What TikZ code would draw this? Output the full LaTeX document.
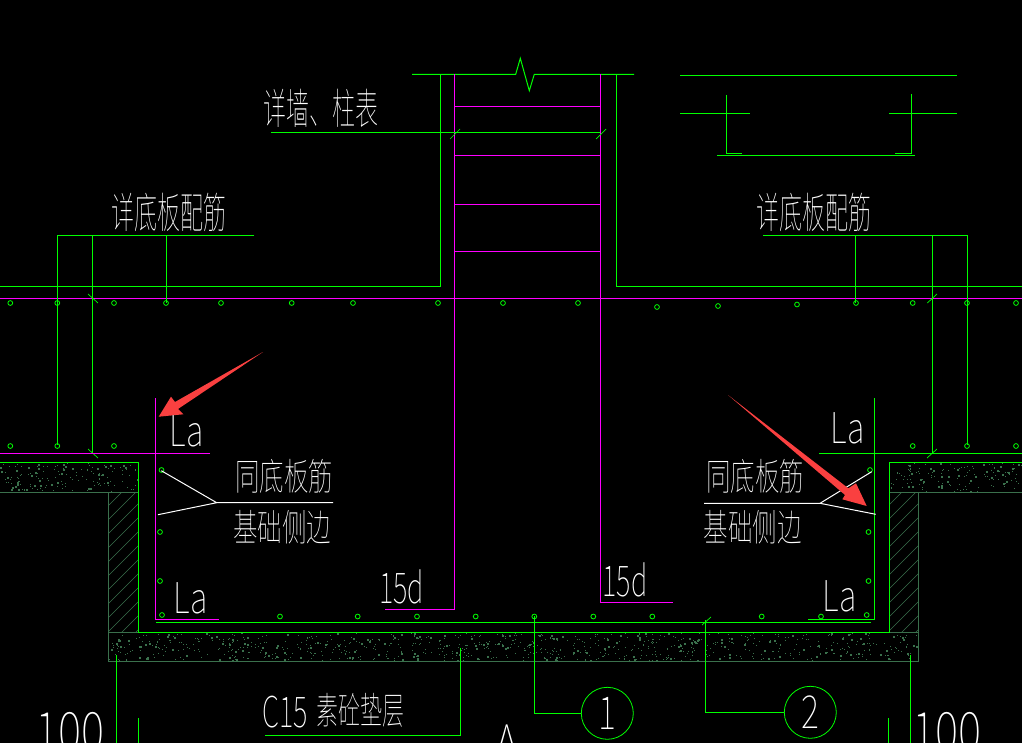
\documentclass[tikz,border=0pt]{standalone}
\usepackage{fontspec}
\usepackage{graphicx}
\usepackage{tikz}
\newfontfamily\cadcjk{Noto Sans CJK SC Thin}
\definecolor{cadgreen}{RGB}{0,255,0}
\definecolor{cadmagenta}{RGB}{255,0,255}
\definecolor{caddark}{RGB}{58,112,76}
\definecolor{cadred}{RGB}{250,64,64}
\tikzset{
	cadlabel/.style={text=white,inner sep=0pt,transform shape,xscale=#1,yscale=1.5,font=\cadcjk\fontsize{25}{25}\selectfont},
	cadlabel/.default=.98,
	tallabel/.style={text=white,inner sep=0pt,transform shape,xscale=#1,yscale=1.7,font=\cadcjk\fontsize{25}{25}\selectfont},
	cadsign/.style={text=white,inner sep=0pt,transform shape,xscale=#1,yscale=1.12,font=\cadcjk\fontsize{38}{38}\selectfont},
	cadsign/.default=.85,
	bigsign/.style={text=white,inner sep=0pt,transform shape,xscale=1.05,yscale=1.3,font=\cadcjk\fontsize{42}{42}\selectfont},
	rebar/.style={cadgreen,line width=.8pt},
	bubble/.style={circle,draw=cadgreen,line width=.8pt,minimum size=52pt,inner sep=0pt,text=white,font=\cadcjk\fontsize{38}{38}\selectfont}
}
\newcommand{\grit}[5]{
	\foreach \i in {1,...,#5}{
		\pgfmathsetmacro{\px}{#1+rnd*#3}
		\pgfmathsetmacro{\py}{#2+rnd*#4}
		\pgfmathsetmacro{\ps}{rnd>.8 ? 2 : 1}
		\fill[caddark] (\px,\py) rectangle +(\ps,\ps);
	}
}
\begin{document}
\begin{tikzpicture}[x=1pt,y=-1pt,line width=1pt]
	\fill[black] (0,0) rectangle (1022,743);
	\useasboundingbox (0,0) rectangle (1022,743);
	\clip (0,0) rectangle (1022,743);
	\pgfmathsetseed{7}
	\grit{0}{463}{137}{28}{150}
	\grit{890}{463}{132}{28}{145}
	\grit{109}{633}{809}{27}{850}
	\begin{scope}
		\clip (108.5,492) rectangle (138,632);
		\foreach \y in {500,514,...,680}
			\draw[caddark,line width=.6pt] (100,\y) -- (150,\y-50);
	\end{scope}
	\begin{scope}
		\clip (889,492) rectangle (918.7,632);
		\foreach \y in {500,514,...,680}
			\draw[caddark,line width=.6pt] (880,\y) -- (930,\y-50);
	\end{scope}
	\draw[caddark] (0,492) -- (108.5,492) -- (108.5,661) -- (918.7,661) -- (918.7,492) -- (1022,492);
	\draw[caddark] (889,492) -- (918.7,492) (108.5,492) -- (138,492) (108.5,632) -- (138,632) (889,632) -- (918.7,632);
	\draw[cadgreen] (0,462) -- (138,462) -- (138,632) -- (889,632) -- (889,462) -- (1022,462);
	\draw[cadgreen] (412,74.3) -- (515.7,74.3) -- (520.3,58.3) -- (529.3,90.7) -- (534.3,74.3) -- (634,74.3);
	\draw[cadgreen] (0,286.7) -- (440.3,286.7) -- (440.3,74.3) (1022,286.7) -- (616.7,286.7) -- (616.7,74.3);
	\draw[cadmagenta] (0,298.3) -- (1022,298.3);
	\draw[cadmagenta] (454.5,74.3) -- (454.5,609.3) -- (385,609.3);
	\draw[cadmagenta] (600.3,74.3) -- (600.3,602.3) -- (672.7,602.3);
	\foreach \y in {106.3,155.3,204.3,251.3}
		\draw[cadmagenta] (454.5,\y) -- (600.3,\y);
	\draw[cadgreen] (271,132.3) -- (600.3,132.3);
	\draw[cadgreen,line width=.7pt] (450,139) -- (460,129) (596,139) -- (606,129);
	\draw[cadgreen] (680,75.3) -- (956.7,75.3) (680,113.3) -- (750,113.3) (889,113.3) -- (957,113.3);
	\draw[cadgreen] (726.3,95) -- (726.3,153.3) -- (741.7,153.3) (911.3,94) -- (911.3,153.3) -- (895,153.3) (717,155.3) -- (915,155.3);
	\draw[cadgreen] (254,235.3) -- (57.3,235.3) -- (57.3,445);
	\draw[cadgreen] (92.3,235.3) -- (92.3,453) (166,235.3) -- (166,303);
	\draw[cadgreen] (763,235.3) -- (967,235.3) -- (967,445);
	\draw[cadgreen] (855.3,235.3) -- (855.3,303) (932.3,235.3) -- (932.3,453);
	\draw[cadgreen,line width=.7pt] (88,294) -- (98,303) (88,449) -- (98,458) (927.3,303) -- (937,294) (927,458) -- (937,449) (702,625) -- (711,617);
	\draw[cadmagenta] (0,453) -- (210,453) (155.5,398) -- (155.5,619) -- (219,619);
	\draw[cadgreen] (819,453) -- (1022,453) (874.3,398) -- (874.3,619) -- (808,619);
	\draw[cadgreen] (156,622) -- (870.7,622);
	\foreach \x in {10.3,57.3,114,166,221,291.7,353,438,503,578,856,912.7,967,1016}
		\draw[rebar] (\x,303) circle (2.4);
	\draw[rebar] (657,307) circle (2.4) (718,306) circle (2.4) (797,304.5) circle (2.4);
	\foreach \x in {10.3,57.3,114,912.7,967,1016}
		\draw[rebar] (\x,446) circle (2.4);
	\foreach \x in {280,357.7,417,475.7,534.3,593.3,652.3,761.7,821}
		\draw[rebar] (\x,616.5) circle (2.4);
	\foreach \x/\y in {161.5/470,160/532,160/581,162/615,870/470,868.5/532,868.5/581,866.7/615}
		\draw[rebar] (\x,\y) circle (2.4);
	\draw[white] (161.3,470.7) -- (216.7,502.7) -- (158,514.7) (216.7,502.7) -- (333,502.7);
	\draw[white] (704,503.3) -- (820,503.3) -- (871.7,471.7) (820,503.3) -- (875.7,514.3);
	\draw[cadgreen] (265,735.3) -- (460.3,735.3) -- (460.3,648);
	\draw[cadgreen] (116.3,655) -- (116.3,743) (138.3,718) -- (138.3,743) (910.3,655) -- (910.3,743) (888.3,718) -- (888.3,743);
	\node[bubble] (mark1) at (607.3,713.3) {\scalebox{.9}[1.2]{1}};
	\node[bubble] (mark2) at (810.3,712.3) {\scalebox{.9}[1.2]{2}};
	\coordinate (mark1foot) at (534.3,616);
	\coordinate (mark2foot) at (705.3,620);
	\draw[cadgreen] (mark1foot) |- (mark1);
	\draw[cadgreen] (mark2foot) |- (mark2);
	\fill[cadred] (263,352) -- (175,402) -- (171,396.7) -- (158.7,416.7) -- (183.3,414.3) -- (178,409) -- cycle;
	\fill[cadred] (728,395) -- (848.3,488.3) -- (856,483.3) -- (866.7,506) -- (842.3,499.3) -- (845,495) -- cycle;
	\node[tallabel=.92] (walltable) at (321,108.5) {详墙、柱表};
	\node[tallabel=.92] (slableft) at (169,212.5) {详底板配筋};
	\node[tallabel=.92] (slabright) at (813.5,212.5) {详底板配筋};
	\node[cadlabel] (sameleft) at (284,476) {同底板筋};
	\node[cadlabel] (sideleft) at (282,527) {基础侧边};
	\node[cadlabel] (sameright) at (755,476) {同底板筋};
	\node[cadlabel] (sideright) at (752.5,527) {基础侧边};
	\node[cadlabel=.88] (cushion) at (360,710) {素砼垫层};
	\node[cadsign] (lenA) at (186.5,431) {La};
	\node[cadsign] (lenB) at (190.5,598) {La};
	\node[cadsign] (lenC) at (847.5,428) {La};
	\node[cadsign] (lenD) at (839.5,596) {La};
	\node[cadsign=.72] (hookleft) at (401.5,587) {15d};
	\node[cadsign=.72] (hookright) at (625,580) {15d};
	\node[cadsign=.72] (grade) at (285.5,712) {C15};
	\node[bigsign] (coverleft) at (70,732) {100};
	\node[bigsign] (coverright) at (947,732) {100};
	\node[bigsign] (axisname) at (507,745) {A};
\end{tikzpicture}
\end{document}
